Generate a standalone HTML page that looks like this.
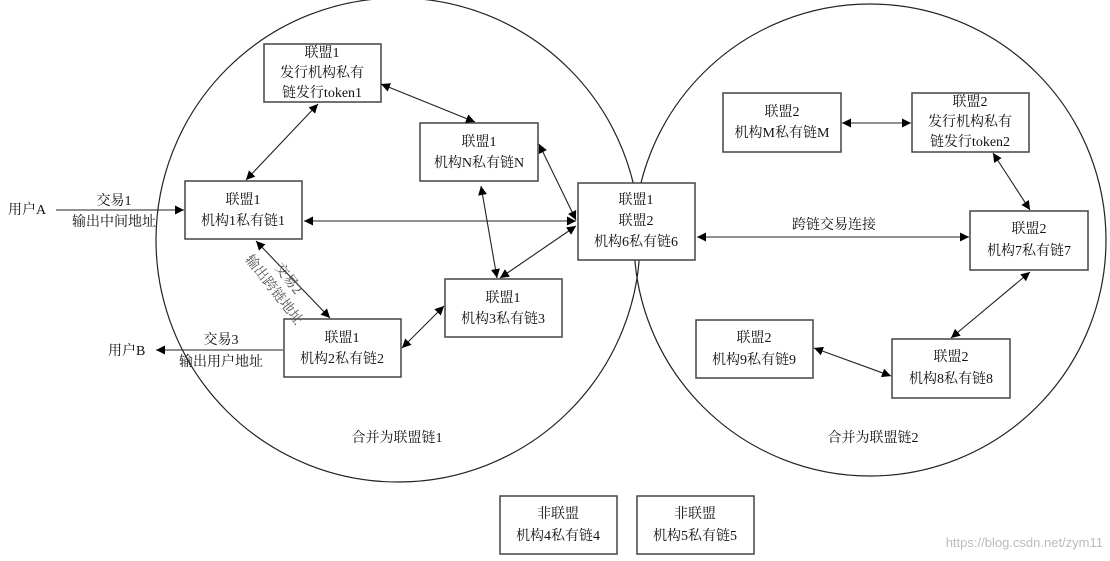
<!DOCTYPE html>
<html><head><meta charset="utf-8"><style>
body{margin:0;background:#fff;}
svg text{font-family:"Liberation Serif","Noto Serif CJK SC","Noto Sans CJK SC",serif;font-size:14px;fill:#111;}
</style></head><body>
<svg width="1110" height="556" viewBox="0 0 1110 556" xmlns="http://www.w3.org/2000/svg">
<defs>
<marker id="a" viewBox="0 0 10 10" refX="10" refY="5" markerWidth="9" markerHeight="9" orient="auto-start-reverse" markerUnits="userSpaceOnUse"><path d="M0,0L10,5L0,10z" fill="#000"/></marker>
</defs>
<g fill="none" stroke="#222" stroke-width="1.2">
<circle cx="398" cy="240" r="242"/>
<circle cx="870" cy="240" r="236"/>
</g>
<g fill="#fff" stroke="#444" stroke-width="1.5">
<rect x="264" y="44" width="117" height="58"/>
<rect x="420" y="123" width="118" height="58"/>
<rect x="185" y="181" width="117" height="58"/>
<rect x="578" y="183" width="117" height="77"/>
<rect x="445" y="279" width="117" height="58"/>
<rect x="284" y="319" width="117" height="58"/>
<rect x="723" y="93" width="118" height="59"/>
<rect x="912" y="93" width="117" height="59"/>
<rect x="970" y="211" width="118" height="59"/>
<rect x="696" y="320" width="117" height="58"/>
<rect x="892" y="339" width="118" height="59"/>
<rect x="500" y="496" width="117" height="58"/>
<rect x="637" y="496" width="117" height="58"/>
</g>
<g stroke="#222" stroke-width="1.1" marker-end="url(#a)">
<line x1="56" y1="210" x2="184" y2="210"/>
<line x1="283" y1="350" x2="156" y2="350"/>
<line x1="381" y1="84" x2="475" y2="122" marker-start="url(#a)"/>
<line x1="318" y1="104" x2="246" y2="180" marker-start="url(#a)"/>
<line x1="304" y1="221" x2="576" y2="221" marker-start="url(#a)"/>
<line x1="539" y1="144" x2="576" y2="220" marker-start="url(#a)"/>
<line x1="481" y1="186" x2="497" y2="278" marker-start="url(#a)"/>
<line x1="500" y1="278" x2="576" y2="226" marker-start="url(#a)"/>
<line x1="256" y1="241" x2="330" y2="318" marker-start="url(#a)"/>
<line x1="402" y1="348" x2="444" y2="306" marker-start="url(#a)"/>
<line x1="697" y1="237" x2="969" y2="237" marker-start="url(#a)"/>
<line x1="842" y1="123" x2="911" y2="123" marker-start="url(#a)"/>
<line x1="993" y1="153" x2="1030" y2="210" marker-start="url(#a)"/>
<line x1="1030" y1="272" x2="951" y2="338" marker-start="url(#a)"/>
<line x1="814" y1="348" x2="891" y2="376" marker-start="url(#a)"/>
</g>
<g text-anchor="middle">
<text x="322" y="57">联盟1</text><text x="322" y="77">发行机构私有</text><text x="322" y="97">链发行token1</text>
<text x="479" y="146">联盟1</text><text x="479" y="167">机构N私有链N</text>
<text x="243" y="204">联盟1</text><text x="243" y="225">机构1私有链1</text>
<text x="636" y="204">联盟1</text><text x="636" y="225">联盟2</text><text x="636" y="246">机构6私有链6</text>
<text x="503" y="302">联盟1</text><text x="503" y="323">机构3私有链3</text>
<text x="342" y="342">联盟1</text><text x="342" y="363">机构2私有链2</text>
<text x="782" y="116">联盟2</text><text x="782" y="137">机构M私有链M</text>
<text x="970" y="106">联盟2</text><text x="970" y="126">发行机构私有</text><text x="970" y="146">链发行token2</text>
<text x="1029" y="233">联盟2</text><text x="1029" y="255">机构7私有链7</text>
<text x="754" y="342">联盟2</text><text x="754" y="364">机构9私有链9</text>
<text x="951" y="361">联盟2</text><text x="951" y="383">机构8私有链8</text>
<text x="558" y="518">非联盟</text><text x="558" y="540">机构4私有链4</text>
<text x="695" y="518">非联盟</text><text x="695" y="540">机构5私有链5</text>
<text x="114" y="205">交易1</text><text x="114" y="226">输出中间地址</text>
<text x="221" y="344">交易3</text><text x="221" y="366">输出用户地址</text>
<text x="834" y="229">跨链交易连接</text>
<text x="397" y="442">合并为联盟链1</text>
<text x="873" y="442">合并为联盟链2</text>
</g>
<text x="8" y="214">用户A</text>
<text x="108" y="355">用户B</text>
<g transform="translate(280,285) rotate(52)" text-anchor="middle" fill="#555">
<text x="0" y="-6" style="fill:#555">交易2</text>
<text x="0" y="12" style="fill:#555">输出跨链地址</text>
</g>
<text x="1103" y="547" text-anchor="end" style="font-family:'Liberation Sans',sans-serif;font-size:13px;fill:#bbb">https://blog.csdn.net/zym11</text>
</svg>
</body></html>
